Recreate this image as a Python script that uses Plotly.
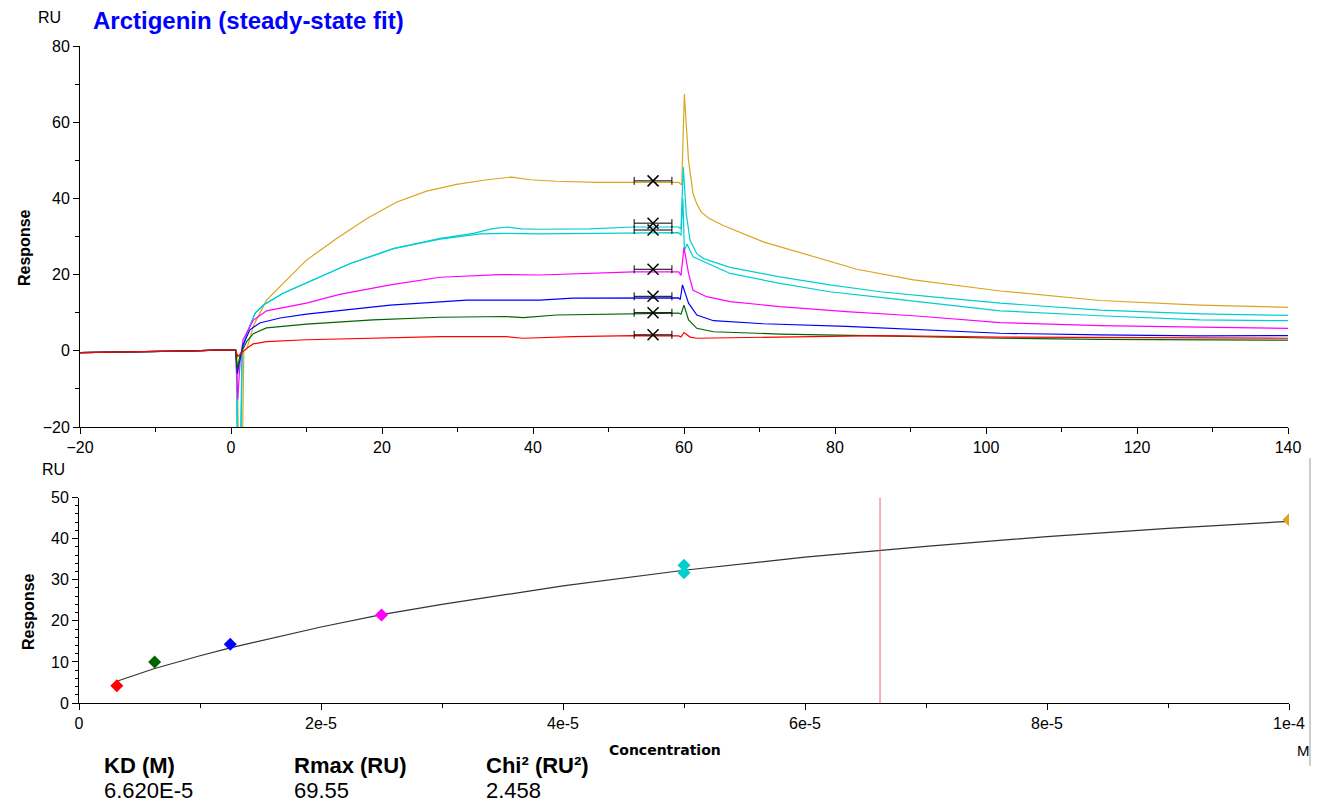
import plotly.graph_objects as go

W, H = 1319, 804
FONT = "Arial, Liberation Sans, sans-serif"

def px(x):
    return x / W

def py(y):
    return 1 - y / H

# ---------------- Sensorgram data (time in s, response in RU) ----------------
base_t = [-20, -15, -10, -5, -2, 0, 0.5]
base_v = [-0.5, -0.4, -0.2, 0.0, 0.2, 0.3, 0.3]

yellow_t = [0.8, 1.1, 1.4, 1.7, 2.1, 2.95, 4.7, 6.9, 10.0, 14.0, 18.0, 21.9, 25.9, 29.9, 33.9, 37.2,
            39.6, 43.1, 48.4, 53.3, 59.3, 59.7, 60.05, 60.6, 61.2, 61.7, 62.3, 63.3, 65.2, 70.5, 77.1,
            82.9, 90.4, 97.0, 101.9, 115.1, 128.3, 140]
yellow_v = [-1, -40, -40, 0, 0.5, 6.5, 13.3, 17.7, 23.8, 29.5, 34.7, 39.0, 41.9, 43.7, 44.9, 45.6,
            44.9, 44.5, 44.2, 44.2, 44.2, 43.5, 67.4, 49.9, 41.2, 38.5, 36.4, 34.8, 32.9, 28.6, 24.7,
            21.4, 18.6, 17.0, 15.7, 13.2, 12.0, 11.4]

cyan1_t = [0.7, 0.95, 1.2, 1.5, 2.1, 3.2, 4.3, 6.9, 10.9, 15.8, 21.5, 27.7, 32.1, 34.5, 36.5, 38.5,
           40.9, 47.5, 53.3, 59.3, 59.6, 59.9, 60.3, 60.8, 61.7, 62.6, 66.1, 72.7, 79.3, 86.0,
           92.6, 101.9, 115.1, 128.3, 140]
cyan1_v = [0.2, -40, -40, 0, 4.6, 9.9, 12.0, 15.1, 18.6, 22.9, 26.8, 29.5, 30.8, 32.0, 32.5, 32.0,
           31.9, 32.0, 32.5, 32.5, 32.0, 48.2, 36.0, 29.0, 25.5, 24.2, 21.9, 19.4, 17.3, 15.5,
           14.2, 12.5, 10.7, 9.7, 9.3]

cyan2_t = [0.7, 0.9, 1.15, 1.45, 2.1, 3.2, 4.3, 6.9, 10.9, 15.8, 21.5, 27.7, 33.0, 36.5, 40.9, 47.5,
           53.3, 59.3, 59.6, 59.85, 60.05, 60.4, 61.2, 62.6, 66.1, 72.7, 79.3, 86.0, 92.6, 101.9,
           115.1, 128.3, 140]
cyan2_v = [0.2, -40, -40, 0, 4.6, 9.9, 12.0, 15.1, 18.6, 22.9, 26.8, 29.3, 30.7, 30.8, 30.7, 30.8,
           31.0, 31.0, 30.3, 40.0, 26.4, 28.0, 24.7, 23.4, 20.3, 17.7, 15.5, 14.0, 12.6, 10.5,
           9.2, 8.1, 7.9]

magenta_t = [0.6, 0.9, 1.2, 1.6, 2.95, 4.7, 10.0, 14.4, 21.1, 27.7, 35.6, 40.9, 47.5, 53.3, 59.3,
             59.6, 60.0, 60.6, 61.2, 63.0, 66.1, 72.7, 81.5, 90.4, 101.9, 115.1, 128.3, 140]
magenta_v = [0.2, -12.8, -3, 2.9, 8.0, 10.5, 12.5, 14.8, 17.3, 19.3, 20.0, 19.9, 20.3, 20.7, 20.7,
             19.8, 27.1, 20.3, 15.9, 14.2, 12.9, 11.6, 10.3, 9.2, 7.4, 6.6, 6.2, 5.9]

blue_t = [0.6, 0.85, 1.1, 1.6, 2.5, 3.8, 6.5, 10.0, 15.3, 21.1, 31.2, 40.9, 45.3, 53.3, 59.3, 59.5,
          59.8, 60.6, 61.7, 63.9, 70.5, 81.5, 92.6, 101.9, 115.1, 128.3, 140]
blue_v = [0.2, -6, -3, 1.6, 5.5, 7.3, 8.6, 9.6, 10.7, 12.0, 13.3, 13.3, 13.8, 13.9, 13.9, 13.4,
          17.3, 12.5, 9.4, 7.9, 7.1, 6.4, 5.5, 4.6, 4.2, 3.9, 4.0]

green_t = [0.6, 0.85, 1.2, 2.1, 2.95, 4.7, 10.0, 18.8, 27.7, 36.5, 38.7, 43.1, 53.3, 59.3, 59.6,
           60.0, 60.6, 61.7, 63.9, 72.7, 86.0, 101.9, 115.1, 128.3, 140]
green_v = [0.2, -5, -1, 2.5, 4.5, 6.0, 7.0, 8.1, 8.8, 9.0, 8.7, 9.4, 9.6, 9.9, 9.6,
           12.0, 8.1, 5.9, 5.0, 4.4, 3.9, 3.3, 3.0, 2.9, 2.8]

red_t = [0.6, 0.9, 1.4, 2.1, 2.95, 4.7, 10.0, 18.8, 27.7, 36.5, 38.7, 45.3, 53.3, 59.3, 59.6, 60.0,
         60.8, 61.7, 72.7, 86.0, 101.9, 115.1, 128.3, 140]
red_v = [0.2, -1.5, -0.5, 0.7, 1.8, 2.4, 2.9, 3.3, 3.7, 3.7, 3.3, 3.7, 4.0, 3.9, 3.6, 4.8,
         3.6, 3.3, 3.7, 4.0, 3.6, 3.5, 3.4, 3.3]

# ---------------- Steady-state (report point) data ----------------
conc = [3.125e-6, 6.25e-6, 1.25e-5, 2.5e-5, 5e-5, 5e-5, 1e-4]
resp = [4.2, 10.0, 14.3, 21.4, 33.5, 31.7, 44.6]
colors = ["#FF0000", "#006400", "#0000FF", "#FF00FF", "#00CED1", "#00CED1", "#DAA520"]
report_t = 55.9
report_halfwidth = 2.5

fit_conc = [3.125e-6, 6.25e-6, 1e-5, 1.25e-5, 2e-5, 2.5e-5, 3e-5, 4e-5, 5e-5, 6e-5, 7e-5, 8e-5, 9e-5, 1e-4]
fit_resp = [5.3, 8.4, 11.5, 13.4, 18.5, 21.5, 24.0, 28.5, 32.3, 35.5, 38.1, 40.5, 42.5, 44.2]

KD = 6.620e-5
stat_labels = ["KD (M)", "Rmax (RU)", "Chi² (RU²)"]
stat_values = ["6.620E-5", "69.55", "2.458"]
stat_x = [102, 292, 484]

x2_tickvals = [0, 2e-5, 4e-5, 6e-5, 8e-5, 1e-4]
x2_ticktext = ["0", "2e-5", "4e-5", "6e-5", "8e-5", "1e-4"]

curves = [
    (yellow_t, yellow_v, "#DAA520"),
    (cyan1_t, cyan1_v, "#00CED1"),
    (cyan2_t, cyan2_v, "#00CED1"),
    (magenta_t, magenta_v, "#FF00FF"),
    (blue_t, blue_v, "#0000FF"),
    (green_t, green_v, "#006400"),
    (red_t, red_v, "#FF0000"),
]

fig = go.Figure()

for t, v, c in curves:
    fig.add_trace(go.Scatter(x=base_t + t, y=base_v + v, mode="lines",
                             line=dict(color=c, width=1.2), xaxis="x", yaxis="y",
                             showlegend=False, hoverinfo="skip"))

# report point markers on sensorgram
fig.add_trace(go.Scatter(
    x=[report_t] * len(resp), y=resp, mode="markers", xaxis="x", yaxis="y",
    marker=dict(symbol="x-thin", size=11, line=dict(color="black", width=1.5)),
    error_x=dict(type="constant", value=report_halfwidth, color="black", thickness=1, width=4),
    showlegend=False, hoverinfo="skip"))

# steady-state fit curve
fig.add_trace(go.Scatter(x=fit_conc, y=fit_resp, mode="lines", xaxis="x2", yaxis="y2",
                         line=dict(color="#333333", width=1.2), showlegend=False, hoverinfo="skip"))
fig.add_trace(go.Scatter(x=conc, y=resp, mode="markers", xaxis="x2", yaxis="y2",
                         marker=dict(symbol="diamond", size=10, color=colors),
                         showlegend=False, hoverinfo="skip"))

axis_common = dict(showline=True, linecolor="black", linewidth=1, ticks="outside", ticklen=6,
                   tickcolor="black", tickwidth=1, showgrid=False, zeroline=False,
                   tickfont=dict(family=FONT, size=16, color="black"), fixedrange=True)

fig.update_layout(
    width=W, height=H, autosize=False,
    margin=dict(l=0, r=0, t=0, b=0),
    template="none",
    paper_bgcolor="white", plot_bgcolor="white",
    font=dict(family=FONT, color="black"),
    xaxis=dict(domain=[px(80), px(1288)], range=[-20, 140], anchor="y", tick0=0, dtick=20,
               minor=dict(dtick=10, ticks="outside", ticklen=4, tickcolor="black"), **axis_common),
    yaxis=dict(domain=[py(427), py(46)], range=[-20, 80], anchor="x", tick0=0, dtick=20,
               minor=dict(dtick=10, ticks="outside", ticklen=4, tickcolor="black"), **axis_common),
    xaxis2=dict(domain=[px(79), px(1289)], range=[0, 1e-4], anchor="y2", tickmode="array",
                tickvals=x2_tickvals, ticktext=x2_ticktext,
                minor=dict(tickvals=[1e-5, 3e-5, 5e-5, 7e-5, 9e-5], ticks="outside", ticklen=4,
                           tickcolor="black"), **axis_common),
    yaxis2=dict(domain=[py(703), py(497.5)], range=[0, 50], anchor="x2", tick0=0, dtick=10,
                minor=dict(dtick=2, ticks="outside", ticklen=3, tickcolor="black"), **axis_common),
)

fig.add_shape(type="line", xref="x2", yref="y2", x0=KD, x1=KD, y0=0, y1=50,
              line=dict(color="rgb(240,100,100)", width=1))
fig.add_shape(type="line", xref="paper", yref="paper", x0=px(1310), x1=px(1310),
              y0=py(458), y1=py(766), line=dict(color="#999999", width=1))

ann = []
ann.append(dict(text="<b>Arctigenin (steady-state fit)</b>", x=px(91), y=py(20), xanchor="left",
                yanchor="middle", font=dict(size=24, color="#0000FF", family=FONT)))
ann.append(dict(text="RU", x=px(36), y=py(18), xanchor="left", yanchor="middle",
                font=dict(size=16, family=FONT)))
ann.append(dict(text="RU", x=px(40), y=py(469), xanchor="left", yanchor="middle",
                font=dict(size=16, family=FONT)))
ann.append(dict(text="<b>Response</b>", x=px(25), y=py(248), xanchor="center", yanchor="middle",
                textangle=-90, font=dict(size=16, family=FONT)))
ann.append(dict(text="<b>Response</b>", x=px(28), y=py(612), xanchor="center", yanchor="middle",
                textangle=-90, font=dict(size=16, family=FONT)))
ann.append(dict(text="<b>Concentration</b>", x=px(665), y=py(750), xanchor="center", yanchor="middle",
                font=dict(size=14, family="DejaVu Sans")))
ann.append(dict(text="M", x=px(1303), y=py(750), xanchor="center", yanchor="middle",
                font=dict(size=15, family=FONT)))
for lab, val, sx in zip(stat_labels, stat_values, stat_x):
    ann.append(dict(text="<b>" + lab + "</b>", x=px(sx), y=py(765), xanchor="left", yanchor="middle",
                    font=dict(size=22, family=FONT)))
    ann.append(dict(text=val, x=px(sx), y=py(790), xanchor="left", yanchor="middle",
                    font=dict(size=22, family=FONT)))

for a in ann:
    a.update(xref="paper", yref="paper", showarrow=False)
fig.update_layout(annotations=ann)

fig.write_html("out.html")
